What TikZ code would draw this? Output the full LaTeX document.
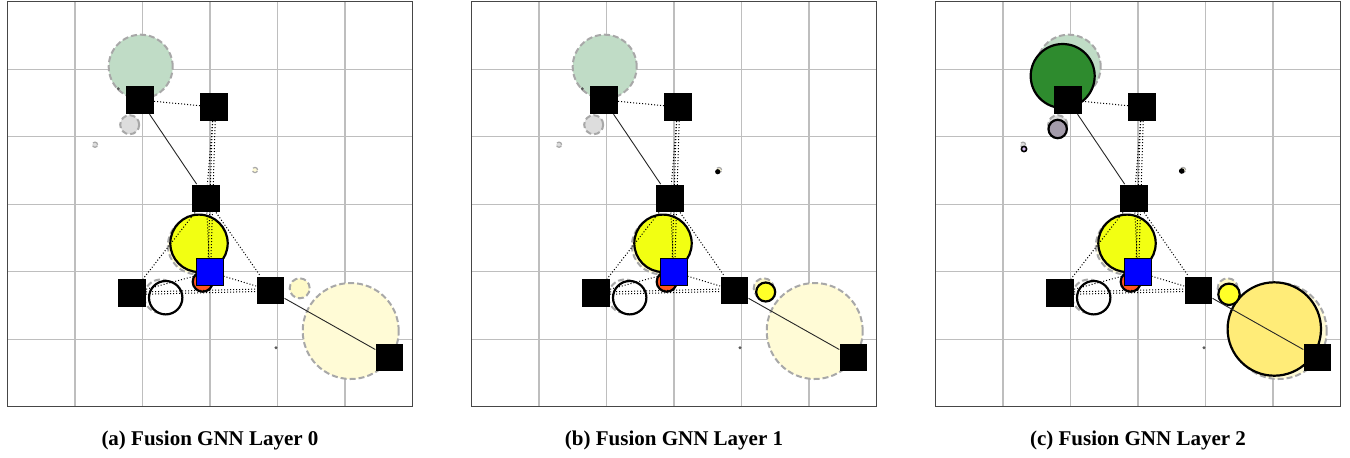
\documentclass[tikz,border=0pt]{standalone}
\usepackage{fontspec}
\setmainfont{Liberation Serif}
\usepackage{tikz}
\usepackage{xcolor}
\definecolor{gridgray}{RGB}{190,190,190}
\definecolor{framegray}{RGB}{70,70,70}
\definecolor{ghostline}{RGB}{168,168,168}
\definecolor{ghostgreen}{RGB}{192,220,198}
\definecolor{ghostgray}{RGB}{221,221,221}
\definecolor{ghostyellow}{RGB}{255,251,214}
\definecolor{ghostlemon}{RGB}{255,250,200}
\definecolor{goldyellow}{RGB}{242,255,18}
\definecolor{emberred}{RGB}{255,85,30}
\definecolor{leafgreen}{RGB}{46,139,46}
\definecolor{mauvegray}{RGB}{163,155,170}
\definecolor{butteryellow}{RGB}{255,236,120}
\definecolor{lemonyellow}{RGB}{255,255,40}
\definecolor{lilac}{RGB}{215,190,240}

\begin{document}
\begin{tikzpicture}[
    x=0.5pt, y=-0.5pt,
    gridline/.style={gridgray, line width=0.7pt},
    frame/.style={framegray, line width=0.7pt},
    ghost/.style={circle, fill=#1, draw=ghostline, dash pattern=on 3pt off 1.5pt, line width=1pt, inner sep=0pt},
    ghost/.default=ghostgray,
    blob/.style={circle, fill=#1, draw=black, line width=1.1pt, inner sep=0pt},
    blob/.default=white,
    speck/.style={circle, fill=#1, inner sep=0pt, minimum size=1.6pt},
    speck/.default=black!65,
    agent/.style={rectangle, fill=black, inner sep=0pt, minimum size=13.8pt},
    goal/.style={rectangle, fill=blue, draw=black, line width=0.4pt, inner sep=0pt, minimum size=13.4pt},
    link/.style={black, densely dotted, line width=0.5pt},
    tie/.style={black!85, line width=0.45pt},
    caption/.style={font=\fontsize{10.5}{12}\selectfont\bfseries}
]

    \useasboundingbox (0,0) rectangle (1350,457);
    \fill[white] (0,0) rectangle (1350,457);

    % --- Panels: frame, grid, ghost targets, shared discs ---
    \foreach \p/\dx in {a/7.3, b/471.3, c/935.3} {
        \begin{scope}[shift={(\dx,1.7)}]
            \foreach \k in {1,...,5} {
                \draw[gridline] (\k*67.57,0) -- (\k*67.57,405);
                \draw[gridline] (0,\k*67.5) -- (405.4,\k*67.5);
            }
            \draw[frame] (0,0) rectangle (405.4,405);

            % ghost targets
            \node[ghost=ghostgreen, minimum size=32pt]  (\p-g1) at (133.4,65)    {};
            \node[ghost, minimum size=9.5pt]            (\p-g2) at (122.4,123)   {};
            \node[ghost, minimum size=2.6pt, line width=0.6pt] (\p-g3) at (87.7,143) {};
            \node[ghost=ghostyellow, minimum size=2.6pt, line width=0.6pt] (\p-g4) at (247.7,168.3) {};
            \node[ghost=ghostyellow, minimum size=28.7pt] (\p-g5) at (189.3,243.8) {};
            \node[ghost=white, minimum size=16.7pt]     (\p-g6) at (153.5,294.5) {};
            \node[ghost=ghostlemon, minimum size=10pt]  (\p-g7) at (292.4,286.6) {};
            \node[ghost=ghostyellow, minimum size=48pt] (\p-g8) at (343.4,329.3) {};

            % shared discs
            \node[blob=goldyellow, minimum size=28.7pt] (\p-sun)   at (191.7,241.6) {};
            \node[blob=emberred, minimum size=10pt]     (\p-ember) at (195.4,280)   {};
            \node[blob, minimum size=16.7pt]            (\p-ring)  at (158.4,296)   {};
            \node[speck] (\p-d1) at (111,87)    {};
            \node[speck] (\p-d2) at (268.7,346) {};
        \end{scope}
    }

    % --- Layer 1 discs ---
    \begin{scope}[shift={(471.3,1.7)}]
        \node[speck=black, minimum size=2.6pt]   (b-dot)   at (246.4,170)   {};
        \node[blob=lemonyellow, minimum size=9.5pt] (b-lemon) at (294.4,290.3) {};
    \end{scope}

    % --- Layer 2 discs ---
    \begin{scope}[shift={(935.3,1.7)}]
        \node[blob=leafgreen, minimum size=32pt]     (c-leaf)   at (127.4,74.3)  {};
        \node[blob=mauvegray, minimum size=9.2pt]    (c-mauve)  at (122.4,127.3) {};
        \node[blob=lilac, minimum size=2.6pt, line width=0.8pt] (c-lilac) at (88.7,147.3) {};
        \node[speck=black, minimum size=2.8pt]       (c-dot)    at (246.4,169.3) {};
        \node[blob=butteryellow, minimum size=46.7pt] (c-butter) at (339,327.3)  {};
        \node[blob=lemonyellow, minimum size=10.7pt] (c-lemon)  at (293.7,292.6) {};
    \end{scope}

    % --- Agents, goal, links, captions ---
    \foreach \p/\lay/\dx in {a/0/7.3, b/1/471.3, c/2/935.3} {
        \begin{scope}[shift={(\dx,1.7)}]
            \node[agent] (\p-s1) at (132.7,98.3)  {};
            \node[agent] (\p-s2) at (206.7,105.3) {};
            \node[agent] (\p-s3) at (198.9,196.6) {};
            \node[agent] (\p-s4) at (124.7,291.3) {};
            \node[agent] (\p-s5) at (263,288.6)   {};
            \node[agent] (\p-s6) at (382.2,355.8) {};
            \node[goal]  (\p-goal) at (202.5,270.3) {};

            \draw[link] (\p-s1) -- (\p-s2);
            \draw[tie]  (\p-s1) -- (\p-s3);
            \draw[link] (\p-s2) -- (\p-s3);
            \draw[link] ([xshift=-0.8pt]\p-s2.south) -- ([xshift=-0.8pt]\p-goal.north);
            \draw[link] ([xshift=0.6pt]\p-s2.south) -- ([xshift=0.6pt]\p-goal.north);
            \draw[link] (\p-s3) -- (\p-goal);
            \draw[link] (\p-s3) -- (\p-s4);
            \draw[link] (\p-s3) -- (\p-s5);
            \draw[link] ([yshift=-0.6pt]\p-s4.east) -- ([yshift=-0.6pt]\p-s5.west);
            \draw[link] ([yshift=0.6pt]\p-s4.east) -- ([yshift=0.6pt]\p-s5.west);
            \draw[link] (\p-s4) -- (\p-goal);
            \draw[link] (\p-goal) -- (\p-s5);
            \draw[tie]  (\p-s5) -- (\p-s6);

            \node[caption] (\p-cap) at (202.7,438.3) {(\p) Fusion GNN Layer \lay};
        \end{scope}
    }

\end{tikzpicture}
\end{document}
